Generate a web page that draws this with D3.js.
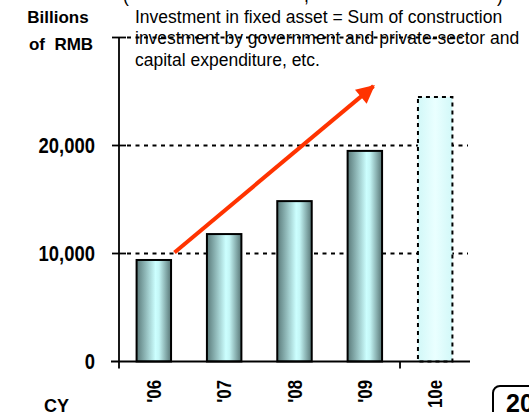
<!DOCTYPE html>
<html>
<head>
<meta charset="utf-8">
<script src="https://cdn.jsdelivr.net/npm/d3@7"></script>
<style>
  body { margin: 0; background: #fff; }
  svg { display: block; font-family: Arial, "Liberation Sans", sans-serif; }
</style>
</head>
<body>
<script>
// data
var years    = ["'06", "'07", "'08", "'09", "10e"];
var values   = [9400, 11800, 14850, 19500, 24500];
var estimate = [false, false, false, false, true];
var yTicks   = [0, 10000, 20000, 30000];
var yLabels  = ["0", "10,000", "20,000", ""];
var noteLines = [
  "Investment in fixed asset = Sum of construction",
  "investment by government and private-sector and",
  "capital expenditure, etc."
];
// arrow from just right of '06 up to above '09
var arrowFrom = { cat: "'06", pos: 1.1, v: 10100 };
var arrowTo   = { cat: "'09", pos: 0.75, v: 25500 };

var w = 529, h = 412;
var svg = d3.select('body')
  .append('svg')
  .attr('width', w)
  .attr('height', h);

var x = d3.scaleBand()
  .domain(years)
  .range([119, 470])
  .paddingInner(0.51)
  .paddingOuter(0.25);

var y = d3.scaleLinear()
  .domain([0, 30000])
  .range([361.5, 37.5]);

var defs = svg.append('defs');
var g1 = defs.append('linearGradient').attr('id', 'barFill')
  .attr('x1', '0%').attr('x2', '100%').attr('y1', '0%').attr('y2', '0%');
g1.append('stop').attr('offset', '0%').attr('stop-color', '#5a7a7a');
g1.append('stop').attr('offset', '55%').attr('stop-color', '#ccffff');
g1.append('stop').attr('offset', '65%').attr('stop-color', '#c4f6f6');
g1.append('stop').attr('offset', '100%').attr('stop-color', '#587676');

var g2 = defs.append('linearGradient').attr('id', 'estFill')
  .attr('x1', '0%').attr('x2', '100%').attr('y1', '0%').attr('y2', '0%');
g2.append('stop').attr('offset', '0%').attr('stop-color', '#d2f8f8');
g2.append('stop').attr('offset', '50%').attr('stop-color', '#eaffff');
g2.append('stop').attr('offset', '100%').attr('stop-color', '#d2f8f8');

defs.append('marker')
  .attr('id', 'head')
  .attr('viewBox', '0 0 10 10')
  .attr('refX', 9).attr('refY', 5)
  .attr('markerWidth', 4.8).attr('markerHeight', 4.6)
  .attr('markerUnits', 'strokeWidth')
  .attr('orient', 'auto')
  .append('path')
  .attr('d', 'M0,0 L10,5 L0,10 Z')
  .attr('fill', '#ff3300');

// dashed grid lines
svg.selectAll('line.grid')
  .data(yTicks.filter(function(d){ return d > 0; }))
  .enter()
  .append('line')
  .attr('class', 'grid')
  .attr('x1', 127).attr('x2', 468)
  .attr('y1', function(d){ return y(d); })
  .attr('y2', function(d){ return y(d); })
  .attr('stroke', '#000')
  .attr('stroke-width', 2)
  .attr('stroke-dasharray', '4,4.5');

// note text (sits over the top grid line)
svg.append('g').selectAll('text')
  .data(noteLines)
  .enter()
  .append('text')
  .attr('x', 135)
  .attr('y', function(d, i){ return 22.5 + i * 21.5; })
  .attr('font-size', 17.5)
  .attr('fill', '#000')
  .text(function(d){ return d; });

// cut-off line at the very top
svg.append('g').selectAll('text')
  .data([['(', 123], [',', 304], [')', 497]])
  .enter()
  .append('text')
  .attr('x', function(d){ return d[1]; })
  .attr('y', 1.5)
  .attr('font-size', 17.5)
  .text(function(d){ return d[0]; });

// bars
var data = years.map(function(c, i){ return { cat: c, v: values[i], est: estimate[i] }; });

svg.selectAll('rect.bar')
  .data(data)
  .enter()
  .append('rect')
  .attr('class', 'bar')
  .attr('x', function(d){ return x(d.cat); })
  .attr('y', function(d){ return y(d.v); })
  .attr('width', x.bandwidth())
  .attr('height', function(d){ return y(0) - y(d.v); })
  .attr('fill', function(d){ return d.est ? 'url(#estFill)' : 'url(#barFill)'; })
  .attr('stroke', '#000')
  .attr('stroke-width', 2)
  .attr('stroke-dasharray', function(d){ return d.est ? '4,4' : null; });

// axes
var ax = svg.append('g').attr('stroke', '#000').attr('stroke-width', 1.8);
ax.append('line')
  .attr('x1', x.range()[0]).attr('x2', x.range()[0])
  .attr('y1', y(30000)).attr('y2', y(0) + 7);
ax.append('line')
  .attr('x1', 111).attr('x2', x.range()[1])
  .attr('y1', y(0)).attr('y2', y(0));
ax.selectAll('line.tick')
  .data(yTicks.filter(function(d){ return d > 0; }))
  .enter()
  .append('line')
  .attr('x1', 112).attr('x2', 126)
  .attr('y1', function(d){ return y(d); })
  .attr('y2', function(d){ return y(d); });
// tick between actual and estimate
var sep = (x("'09") + x.bandwidth() + x("10e")) / 2;
ax.append('line')
  .attr('x1', sep).attr('x2', sep)
  .attr('y1', y(0)).attr('y2', y(0) + 7);

// y labels
svg.append('g').selectAll('text')
  .data(yTicks)
  .enter()
  .append('text')
  .attr('transform', function(d){ return 'translate(95,' + (y(d) + 7.5) + ') scale(0.9,1.05)'; })
  .attr('text-anchor', 'end')
  .attr('font-size', 20.5)
  .attr('font-weight', 'bold')
  .text(function(d, i){ return yLabels[i]; });

// x labels, rotated
svg.append('g').selectAll('text')
  .data(years)
  .enter()
  .append('text')
  .attr('transform', function(d){
    return 'translate(' + (x(d) + x.bandwidth() / 2 + 7) + ',380) rotate(-90) scale(0.8,1)';
  })
  .attr('text-anchor', 'end')
  .attr('font-size', 21)
  .attr('font-weight', 'bold')
  .text(function(d){ return d; });

// unit labels
svg.append('text').attr('x', 58).attr('y', 23).attr('text-anchor', 'middle')
  .attr('font-size', 17).attr('font-weight', 'bold').text('Billions');
svg.append('text').attr('x', 61).attr('y', 50).attr('text-anchor', 'middle')
  .attr('font-size', 17).attr('font-weight', 'bold').attr('xml:space', 'preserve').text('of  RMB');
svg.append('text').attr('x', 44).attr('y', 412).attr('font-size', 18)
  .attr('font-weight', 'bold').text('CY');

// trend arrow
svg.append('line')
  .attr('x1', x(arrowFrom.cat) + x.bandwidth() * arrowFrom.pos)
  .attr('y1', y(arrowFrom.v))
  .attr('x2', x(arrowTo.cat) + x.bandwidth() * arrowTo.pos)
  .attr('y2', y(arrowTo.v))
  .attr('stroke', '#ff3300')
  .attr('stroke-width', 4)
  .attr('marker-end', 'url(#head)');

// page number box, cut off at the edge
svg.append('rect')
  .attr('x', 493).attr('y', 386).attr('width', 60).attr('height', 40)
  .attr('rx', 7)
  .attr('fill', '#fff').attr('stroke', '#000').attr('stroke-width', 2);
svg.append('text').attr('x', 506).attr('y', 412).attr('font-size', 25)
  .attr('font-weight', 'bold').text('20');
</script>
</body>
</html>
